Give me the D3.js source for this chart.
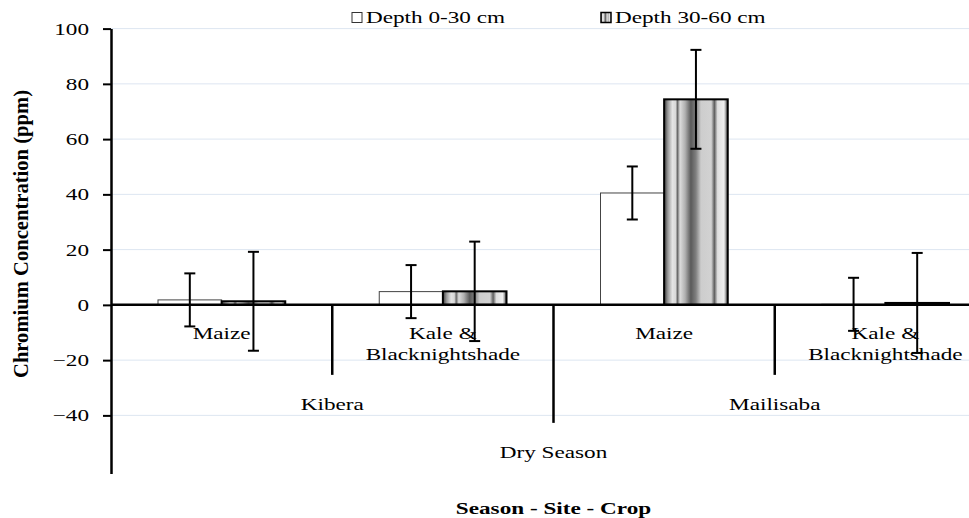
<!DOCTYPE html>
<html>
<head>
<meta charset="utf-8">
<script src="https://cdn.jsdelivr.net/npm/d3@7"></script>
<style>
  html, body { margin: 0; padding: 0; background: #fff; overflow: hidden; }
  svg { display: block; }
  text { font-family: "Liberation Serif", "Times New Roman", serif; fill: #000; }
</style>
</head>
<body>
<svg id="chart" width="969" height="518"></svg>
<script>
// Chromium concentration by crop, site and season, two soil depths
const crops   = ["Maize", "Kale & Blacknightshade", "Maize", "Kale & Blacknightshade"];
const sites   = ["Kibera", "Mailisaba"];
const season  = "Dry Season";
const seriesNames = ["Depth 0-30 cm", "Depth 30-60 cm"];
const shallow    = [1.8, 4.8, 40.5, 0.2];
const deep       = [1.3, 4.9, 74.4, 0.7];
const shallowErr = [9.6, 9.6, 9.6, 9.6];
const deepErr    = [17.9, 18.0, 17.9, 18.1];
const yTicks = [-40, -20, 0, 20, 40, 60, 80, 100];

const SX = 1.45; // horizontal glyph stretch used throughout the chart text
const svg = d3.select("#chart");

// gradient fill for the deeper layer bars (cylindrical stripes)
const defs = svg.append("defs");
const grad = defs.append("linearGradient").attr("id", "stripes")
  .attr("x1", "0").attr("x2", "1").attr("y1", "0").attr("y2", "0");
[[0, "#3a3a3a"], [0.06, "#9a9a9a"], [0.13, "#e4e4e4"], [0.18, "#d8d8d8"], [0.21, "#6a6a6a"],
 [0.25, "#dcdcdc"], [0.33, "#b0b0b0"], [0.42, "#5a5a5a"], [0.5, "#808080"], [0.58, "#cdcdcd"],
 [0.74, "#d2d2d2"], [0.79, "#5e5e5e"], [0.84, "#dedede"], [0.94, "#efefef"], [1, "#4a4a4a"]]
  .forEach(([o, c]) => grad.append("stop").attr("offset", o).attr("stop-color", c));

const x = d3.scaleBand().domain(d3.range(crops.length)).range([111, 996]).padding(0);
const inner = d3.scaleBand().domain([0, 1]).range([47, x.bandwidth() - 47]).padding(0);
const y = d3.scaleLinear().domain([-61, 100]).range([473.4, 28.6]);
const y0 = y(0);

function stretched(sel, tx, ty, anchor) {
  return sel.attr("x", 0).attr("y", 0)
    .attr("text-anchor", anchor)
    .attr("transform", `translate(${tx},${ty}) scale(${SX},1)`);
}

// horizontal gridlines
svg.append("g").selectAll("line").data(yTicks.filter(d => d !== 0)).join("line")
  .attr("x1", 111).attr("x2", 969)
  .attr("y1", d => y(d)).attr("y2", d => y(d))
  .attr("stroke", "#dde6f1").attr("stroke-width", 1);

// value axis
const yAxis = svg.append("g").attr("transform", "translate(111,0)")
  .call(d3.axisLeft(y).tickValues(yTicks).tickSize(8).tickSizeOuter(0));
yAxis.select(".domain").attr("stroke", "#000").attr("stroke-width", 2.5);
yAxis.selectAll(".tick line").attr("stroke", "#000").attr("stroke-width", 2);
yAxis.selectAll(".tick text").each(function() {
  d3.select(this).attr("dy", null).attr("font-size", 16)
    .attr("font-family", "Liberation Serif")
    .call(s => stretched(s, -22, 5.5, "end"));
});

// value axis title
svg.append("text")
  .attr("font-size", 17).attr("font-weight", "bold")
  .attr("text-anchor", "middle")
  .attr("textLength", 288).attr("lengthAdjust", "spacingAndGlyphs")
  .attr("transform", `translate(28,234) scale(1.2,1) rotate(-90)`)
  .text("Chromium Concentration (ppm)");

// category labels (crop level)
crops.forEach((c, i) => {
  const cx = x(i) + x.bandwidth() / 2;
  const lines = c.includes("&") ? ["Kale &", "Blacknightshade"] : [c];
  lines.forEach((ln, j) => {
    svg.append("text").attr("font-size", 16).text(ln)
      .call(s => stretched(s, cx, 339 + j * 21, "middle"));
  });
});

// site labels
sites.forEach((s, k) => {
  const cx = x(2 * k) + x.bandwidth();
  svg.append("text").attr("font-size", 16).text(s)
    .call(t => stretched(t, cx, 410, "middle"));
});
// season label
svg.append("text").attr("font-size", 16).text(season)
  .call(t => stretched(t, (x(0) + x(3) + x.bandwidth()) / 2, 458, "middle"));

// axis title
svg.append("text").attr("font-size", 16).attr("font-weight", "bold").text("Season - Site - Crop")
  .call(t => stretched(t, (x(0) + x(3) + x.bandwidth()) / 2, 514, "middle"));

// bars
const seriesVals = [shallow, deep];
const seriesErr = [shallowErr, deepErr];
const barG = svg.append("g");
seriesVals.forEach((vals, s) => {
  barG.selectAll(null).data(vals).join("rect")
    .attr("x", (d, i) => x(i) + inner(s))
    .attr("width", inner.bandwidth())
    .attr("y", d => y(Math.max(0, d)))
    .attr("height", d => Math.abs(y(d) - y0))
    .attr("fill", s === 0 ? "#fff" : "url(#stripes)")
    .attr("stroke", s === 0 ? "#444" : "#000")
    .attr("stroke-width", s === 0 ? 1 : 2);
});

// category divider ticks (multi-level axis)
const dividers = [
  { at: 1, len: 70 }, { at: 2, len: 118 }, { at: 3, len: 70 }
];
svg.append("g").selectAll("line").data(dividers).join("line")
  .attr("x1", d => x(d.at)).attr("x2", d => x(d.at))
  .attr("y1", y0).attr("y2", d => y0 + d.len)
  .attr("stroke", "#000").attr("stroke-width", 2.5);

// zero baseline
svg.append("line").attr("x1", 111).attr("x2", 969).attr("y1", y0).attr("y2", y0)
  .attr("stroke", "#000").attr("stroke-width", 2.5);

// error bars
const errG = svg.append("g").attr("stroke", "#000").attr("stroke-width", 2);
seriesVals.forEach((vals, s) => {
  vals.forEach((v, i) => {
    const cx = x(i) + inner(s) + inner.bandwidth() / 2;
    const e = seriesErr[s][i];
    errG.append("line").attr("x1", cx).attr("x2", cx).attr("y1", y(v + e)).attr("y2", y(v - e));
    [v + e, v - e].forEach(t => {
      errG.append("line").attr("x1", cx - 5.5).attr("x2", cx + 5.5).attr("y1", y(t)).attr("y2", y(t));
    });
  });
});

// legend
const legendX = [352, 601];
seriesNames.forEach((n, s) => {
  svg.append("rect").attr("x", legendX[s]).attr("y", 12.5).attr("width", 10).attr("height", 10)
    .attr("fill", s === 0 ? "#fff" : "url(#stripes)")
    .attr("stroke", s === 0 ? "#333" : "#000").attr("stroke-width", s === 0 ? 1 : 1.5);
  svg.append("text").attr("font-size", 16).text(n)
    .call(t => stretched(t, legendX[s] + 14, 23, "start"));
});
</script>
</body>
</html>
